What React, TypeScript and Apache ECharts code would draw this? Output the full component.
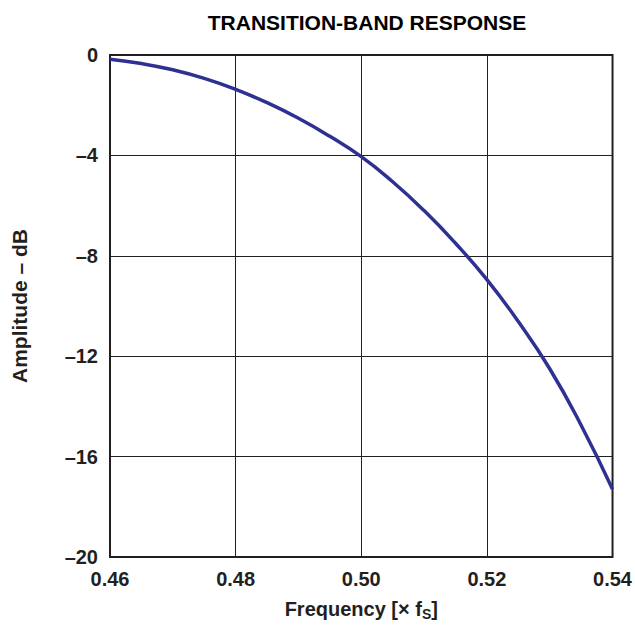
import React, { useEffect, useRef } from "react";
import * as echarts from "echarts";

const frequencies = [0.46, 0.465, 0.47, 0.475, 0.48, 0.485, 0.49, 0.495, 0.5, 0.505, 0.51, 0.515, 0.52, 0.525, 0.53, 0.535, 0.54];
const amplitudeDb = [-0.17, -0.34, -0.59, -0.93, -1.37, -1.9, -2.52, -3.24, -4.05, -5.05, -6.2, -7.5, -8.95, -10.62, -12.5, -14.75, -17.3];

const FONT = "'Liberation Sans', Arial, Helvetica, sans-serif";
const INK = "#231f20";

export default function App() {
  const ref = useRef<HTMLDivElement>(null);
  useEffect(() => {
    document.body.style.margin = "0";
    const chart = echarts.init(ref.current!, null, { renderer: "svg" });
    const data = frequencies.map((f, i) => [f, amplitudeDb[i]]);
    chart.setOption({
      animation: false,
      backgroundColor: "#ffffff",
      title: {
        text: "TRANSITION-BAND RESPONSE",
        left: 362,
        textAlign: "center",
        top: 7,
        textStyle: { fontFamily: FONT, fontWeight: "bold", fontSize: 21, color: "#000" },
      },
      grid: {
        left: 110,
        right: 21,
        top: 55,
        bottom: 71,
        show: true,
        borderColor: INK,
        borderWidth: 2,
        backgroundColor: "transparent",
      },
      xAxis: {
        type: "value",
        min: 0.46,
        max: 0.54,
        interval: 0.02,
        axisLine: { show: false },
        axisTick: { show: false },
        splitLine: { show: true, lineStyle: { color: INK, width: 1 } },
        axisLabel: {
          margin: 12,
          fontFamily: FONT,
          fontWeight: "bold",
          fontSize: 20,
          color: INK,
          formatter: (v: number) => v.toFixed(2),
        },
        name: "{a|Frequency [× f}{s|S}{a|]}",
        nameLocation: "middle",
        nameGap: 40,
        nameTextStyle: {
          rich: {
            a: { fontFamily: FONT, fontWeight: "bold", fontSize: 20, color: INK },
            s: { fontFamily: FONT, fontWeight: "bold", fontSize: 14, color: INK, verticalAlign: "bottom", padding: [10, 0, 0, 0] },
          },
        },
      },
      yAxis: {
        type: "value",
        min: -20,
        max: 0,
        interval: 4,
        axisLine: { show: false },
        axisTick: { show: false },
        splitLine: { show: true, lineStyle: { color: INK, width: 1 } },
        axisLabel: {
          margin: 12,
          fontFamily: FONT,
          fontWeight: "bold",
          fontSize: 20,
          color: INK,
          formatter: (v: number) => String(v).replace("-", "\u2013"),
        },
        name: "Amplitude \u2013 dB",
        nameLocation: "middle",
        nameGap: 80,
        nameRotate: 90,
        nameTextStyle: { fontFamily: FONT, fontWeight: "bold", fontSize: 21, color: INK },
      },
      series: [
        {
          type: "line",
          data,
          smooth: true,
          showSymbol: false,
          lineStyle: { color: "#2e3192", width: 3.5 },
        },
      ],
    });
    return () => chart.dispose();
  }, []);
  return <div ref={ref} style={{ width: 635, height: 628 }} />;
}
